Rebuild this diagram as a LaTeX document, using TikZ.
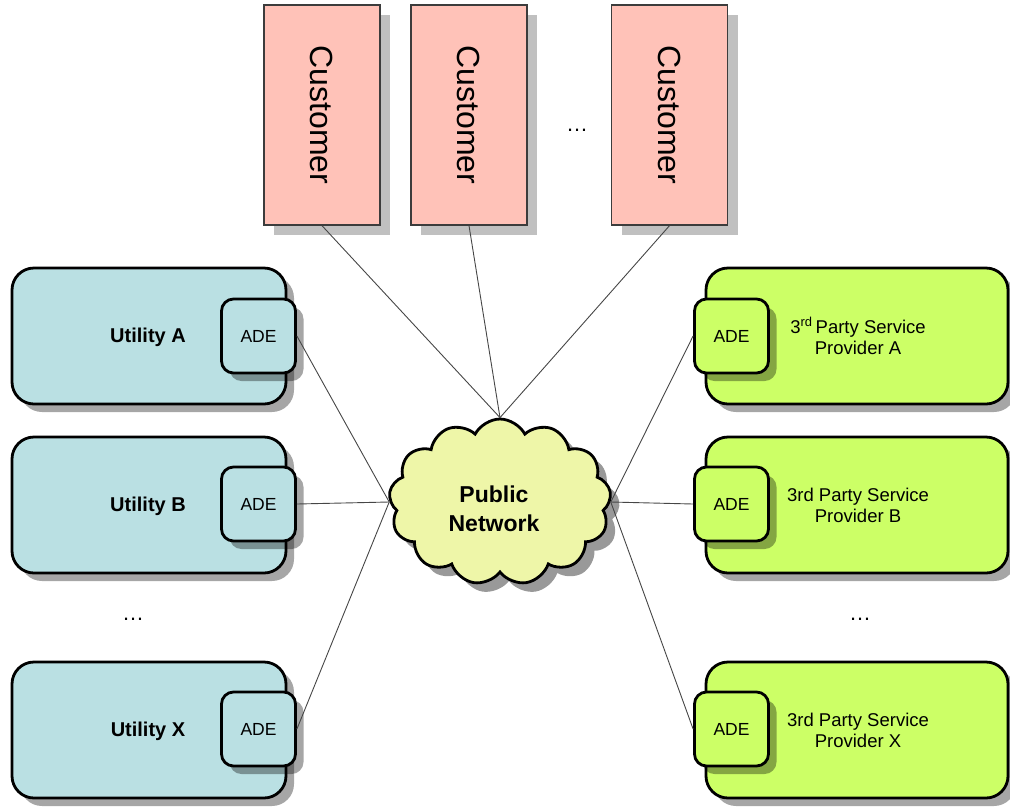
\documentclass[tikz,border=0pt]{standalone}
\usepackage{fontspec}
\setmainfont{Liberation Sans}
\usetikzlibrary{shapes.symbols,shadows}
\definecolor{utilblue}{RGB}{186,224,227}
\definecolor{provgreen}{RGB}{204,255,102}
\definecolor{custpink}{RGB}{255,194,184}
\definecolor{cloudc}{RGB}{238,246,168}
\definecolor{custborder}{RGB}{60,60,60}
\definecolor{custshadow}{RGB}{192,192,192}
\definecolor{linec}{RGB}{70,70,70}
\tikzset{
  softshadow/.style={drop shadow={shadow xshift=8pt,shadow yshift=-8pt,opacity=0.35,fill=black}},
  bigbox/.style={draw=black,line width=2.8pt,rounded corners=22pt,minimum height=136pt,softshadow,inner sep=0pt},
  utilbox/.style={bigbox,minimum width=274pt,fill=utilblue},
  utiltext/.style={font=\fontsize{20}{24}\selectfont\bfseries},
  provbox/.style={bigbox,minimum width=302pt,fill=provgreen},
  provtext/.style={align=center,font=\fontsize{18.5}{21}\selectfont},
  adebox/.style={draw=black,line width=2.8pt,rounded corners=12pt,minimum width=74pt,minimum height=74pt,softshadow,inner sep=0pt,font=\fontsize{17.5}{20}\selectfont},
  custbox/.style={draw=custborder,line width=1.3pt,fill=custpink,minimum width=116pt,minimum height=220pt,inner sep=0pt,
    drop shadow={shadow xshift=10pt,shadow yshift=-10pt,opacity=1,fill=custshadow}},
  custtext/.style={rotate=-90,font=\fontsize{32}{36}\selectfont},
  conn/.style={draw=linec,line width=0.9pt},
  dotsnode/.style={font=\fontsize{22}{24}\selectfont}
}
\begin{document}
\begin{tikzpicture}[x=1pt,y=-1pt]
\useasboundingbox (0,0) rectangle (1010,807);

% customers
\node[custbox] (c1) at (322,115) {};
\node[custtext] at (c1) {Customer};
\node[custbox] (c2) at (469,115) {};
\node[custtext] at (c2) {Customer};
\node[custbox] (c3) at (669.5,115) {};
\node[custtext] at (c3) {Customer};
\node[dotsnode] (dotsC) at (577,130) {\dots};

% utilities
\node[utilbox] (uA) at (149,336) {};
\node[utiltext] (tuA) at (148,337) {Utility A};
\node[adebox,fill=utilblue] (aA) at (258.5,336) {ADE};
\node[utilbox] (uB) at (149,505) {};
\node[utiltext] (tuB) at (148,506) {Utility B};
\node[adebox,fill=utilblue] (aB) at (258.5,504) {ADE};
\node[utilbox] (uX) at (149,730) {};
\node[utiltext] (tuX) at (148,731) {Utility X};
\node[adebox,fill=utilblue] (aX) at (258.5,729) {ADE};
\node[dotsnode] (dotsL) at (133,619) {\dots};

% providers
\node[provbox] (pA) at (857,336) {};
\node[provtext] (tA) at (858,336) {3\textsuperscript{rd}\,Party Service\\Provider A};
\node[adebox,fill=provgreen] (bA) at (731.5,336) {ADE};
\node[provbox] (pB) at (857,505) {};
\node[provtext] (tB) at (858,505) {3rd Party Service\\Provider B};
\node[adebox,fill=provgreen] (bB) at (731.5,504) {ADE};
\node[provbox] (pX) at (857,730) {};
\node[provtext] (tX) at (858,730) {3rd Party Service\\Provider X};
\node[adebox,fill=provgreen] (bX) at (731.5,729) {ADE};
\node[dotsnode] (dotsR) at (860,619) {\dots};

% cloud
\node[cloud,cloud puffs=13,cloud puff arc=125,aspect=1.34,minimum width=222pt,minimum height=166pt,
  draw=black,line width=2.8pt,fill=cloudc,inner sep=0pt,
  drop shadow={shadow xshift=9pt,shadow yshift=-9pt,opacity=0.4,fill=black}] (net) at (500,502) {};
\node[align=center,font=\fontsize{23}{29}\selectfont\bfseries] (nettext) at (494,509) {Public\\Network};

% connectors
\draw[conn] (c1.south) -- (net.north);
\draw[conn] (c2.south) -- (net.north);
\draw[conn] (c3.south) -- (net.north);
\draw[conn] (aA.east) -- (net.west);
\draw[conn] (aB.east) -- (net.west);
\draw[conn] (aX.east) -- (net.west);
\draw[conn] (net.east) -- (bA.west);
\draw[conn] (net.east) -- (bB.west);
\draw[conn] (net.east) -- (bX.west);
\end{tikzpicture}
\end{document}
